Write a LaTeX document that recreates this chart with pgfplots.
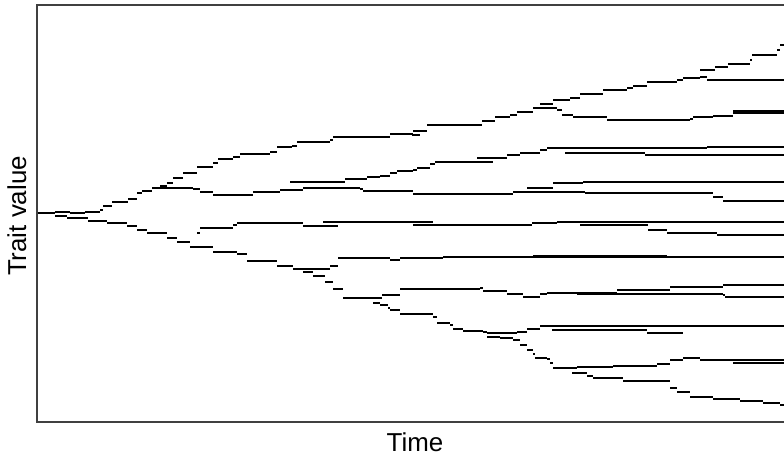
\documentclass[border=0pt]{standalone}
\usepackage{pgfplots}
\pgfplotsset{compat=1.18}
\usepackage{fontspec}
\setmainfont{Liberation Sans}
\begin{document}
\begin{tikzpicture}
\begin{axis}[
  at={(0,0)}, anchor=south west,
  scale only axis, width=756bp, height=417bp,
  xmin=37, xmax=793, ymin=5, ymax=422, y dir=reverse,
  xtick=\empty, ytick=\empty,
  axis line style={black!75, line width=1.1bp},
  clip=true,
  xlabel={\fontsize{26}{30}\selectfont Time},
  ylabel={\fontsize{26}{30}\selectfont Trait value},
  xlabel style={at={(axis description cs:0.5,-0.048)}, anchor=center},
  ylabel style={at={(axis description cs:-0.0265,0.494)}, anchor=center},
  cycle list={{black, solid, mark=none}},
  every axis plot/.append style={jump mark left, line width=1.9bp},
]
% root and upper-most lineage
\addplot coordinates {(38,213)(55,212)(70,213)(85,212)(100,210)(103,206)(112,202)(128,199)(137,193)(142,191)(152,188)(160,186)(167,183)(173,178)(183,173)(197,167)(213,163)(218,159)(233,157)(240,154)(270,152)(277,147)(292,146)(297,142)(330,140)(333,137)(390,134)(413,131)(427,125)(482,121)(495,117)(510,115)(517,112)(533,108)(540,104)(553,100)(570,98)(580,94)(603,90)(627,88)(633,86)(647,82)(677,80)(683,78)(700,70)(715,67)(728,64)(750,60)(752,55)(777,50)(780,45)(793,43)(793,43)};
\addplot coordinates {(412,135)(420,135)(420,135)};
\addplot coordinates {(700,77)(707,80)(793,80)(793,80)};
\addplot coordinates {(537,108)(557,110)(562,115)(573,117)(607,120)(690,119)(693,117)(713,116)(733,113)(793,113)(793,113)};
\addplot coordinates {(733,111)(793,111)(793,111)};
% second upper group
\addplot coordinates {(152,188)(160,188)(193,189)(200,192)(213,195)(250,195)(253,192)(280,190)(303,188)(360,189)(363,191)(380,191)(413,194)(510,194)(513,192)(580,192)(585,193)(710,193)(713,197)(723,201)(793,201)(793,201)};
\addplot coordinates {(290,182)(343,182)(345,179)(367,177)(380,176)(390,173)(397,171)(413,170)(417,168)(430,164)(435,162)(493,162)(493,162)};
\addplot coordinates {(477,158)(507,155)(520,153)(540,150)(547,148)(700,148)(707,147)(793,147)(793,147)};
\addplot coordinates {(565,153)(643,153)(645,155)(793,155)(793,155)};
\addplot coordinates {(527,188)(553,188)(553,183)(583,183)(583,182)(793,182)(793,182)};
% lower main lineage
\addplot coordinates {(55,216)(67,218)(88,221)(107,223)(127,226)(137,230)(147,233)(163,233)(167,238)(177,242)(190,247)(213,252)(237,254)(247,261)(277,266)(293,269)(320,269)(330,266)(338,258)(390,260)(400,258)(443,257)(793,258)(793,258)};
\addplot coordinates {(533,256)(667,256)(667,256)};
\addplot coordinates {(197,233)(200,228)(233,225)(237,223)(287,223)(303,226)(338,226)(338,226)};
\addplot coordinates {(323,222)(433,222)(433,222)};
\addplot coordinates {(413,225)(530,225)(532,223)(557,222)(793,221)(793,221)};
\addplot coordinates {(580,225)(647,225)(648,230)(667,233)(713,233)(717,235)(793,235)(793,235)};
\addplot coordinates {(303,272)(313,276)(325,282)(333,289)(343,298)(382,295)(400,289)(480,288)(483,291)(507,294)(523,297)(540,294)(547,293)(613,293)(617,290)(667,290)(670,287)(723,285)(793,285)(793,285)};
\addplot coordinates {(577,294)(723,295)(725,297)(793,297)(793,297)};
\addplot coordinates {(373,303)(380,305)(388,308)(390,310)(400,314)(433,317)(437,323)(450,325)(453,329)(463,331)(483,332)(487,333)(513,333)(517,332)(527,329)(540,326)(793,326)(793,326)};
\addplot coordinates {(552,330)(643,330)(647,333)(683,333)(683,333)};
\addplot coordinates {(487,337)(500,338)(513,340)(520,345)(527,350)(533,354)(535,358)(547,359)(550,363)(553,368)(573,368)(577,367)(613,366)(657,364)(670,360)(683,358)(700,360)(793,360)(793,360)};
\addplot coordinates {(733,363)(793,363)(793,363)};
\addplot coordinates {(572,373)(587,376)(593,378)(623,381)(670,382)(670,388)(677,392)(690,397)(713,399)(740,401)(763,403)(780,405)(793,406)(793,406)};
\end{axis}
\pgfresetboundingbox
\path[use as bounding box] (-37bp,-34bp) rectangle (747bp,422bp);
\end{tikzpicture}
\end{document}
